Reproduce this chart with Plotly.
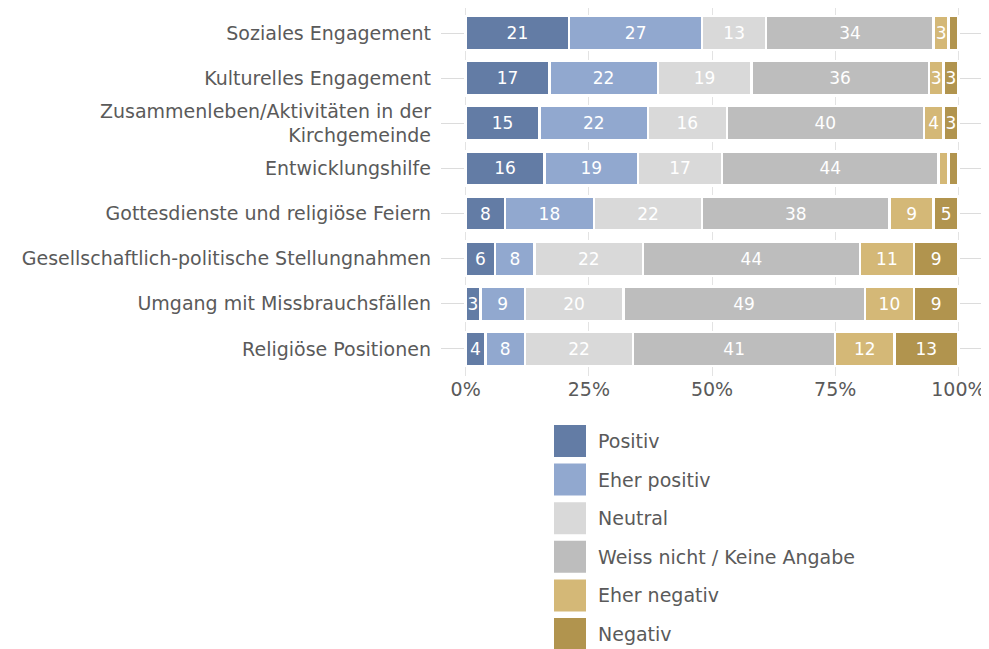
import plotly.graph_objects as go

categories = [
    "Soziales Engagement",
    "Kulturelles Engagement",
    "Zusammenleben/Aktivitäten in der<br>Kirchgemeinde",
    "Entwicklungshilfe",
    "Gottesdienste und religiöse Feiern",
    "Gesellschaftlich-politische Stellungnahmen",
    "Umgang mit Missbrauchsfällen",
    "Religiöse Positionen",
]
series_names = ["Positiv", "Eher positiv", "Neutral", "Weiss nicht / Keine Angabe", "Eher negativ", "Negativ"]
positiv = [21, 17, 15, 16, 8, 6, 3, 4]
eher_positiv = [27, 22, 22, 19, 18, 8, 9, 8]
neutral = [13, 19, 16, 17, 22, 22, 20, 22]
weiss_nicht = [34, 36, 40, 44, 38, 44, 49, 41]
eher_negativ = [3, 3, 4, 2, 9, 11, 10, 12]
negativ = [2, 3, 3, 2, 5, 9, 9, 13]
series_values = [positiv, eher_positiv, neutral, weiss_nicht, eher_negativ, negativ]
colors = ["#637CA5", "#91A8CF", "#D9D9D9", "#BDBDBD", "#D4B877", "#B1944E"]
x_ticks = [0, 25, 50, 75, 100]

FONT = "DejaVu Sans"
TXT = "#5a5a5a"
OFF = 8  # page body margin
W, H = 989 - OFF, 649 - OFF
# plot area in page pixels: left 441, right 983, top 8, bottom 376
L = 441 - OFF
R = 989 - 983
T = 0
B = 649 - 376
pw, ph = W - L - R, H - T - B

fig = go.Figure()
for name, vals, col in zip(series_names, series_values, colors):
    fig.add_trace(go.Bar(
        y=categories, x=vals, name=name, orientation="h",
        marker=dict(color=col, line=dict(color="white", width=2.5)),
        text=[str(v) if v >= 3 else "" for v in vals],
        textposition="inside", insidetextanchor="middle",
        textfont=dict(color="white", size=17, family=FONT),
        showlegend=False, hoverinfo="x+name",
    ))

def px_x(p):
    return (p - OFF - L) / pw

def px_y(p):
    return (H - B - (p - OFF)) / ph

shapes, annotations = [], []
leg_x0, leg_top, pitch, sq = 554, 425, 38.6, 32
for i, (name, col) in enumerate(zip(series_names, colors)):
    top = leg_top + i * pitch
    shapes.append(dict(type="rect", xref="paper", yref="paper",
                       x0=px_x(leg_x0), x1=px_x(leg_x0 + sq),
                       y0=px_y(top + sq), y1=px_y(top),
                       fillcolor=col, line=dict(width=0), layer="above"))
    annotations.append(dict(xref="paper", yref="paper", x=px_x(leg_x0 + 42),
                            y=px_y(top + sq / 2), text=name, showarrow=False,
                            xanchor="left", yanchor="middle",
                            font=dict(size=19, color=TXT, family=FONT)))

fig.update_layout(
    barmode="stack", bargap=0.24,
    width=W, height=H,
    margin=dict(l=L, r=R, t=T, b=B, pad=0),
    plot_bgcolor="white", paper_bgcolor="white",
    font=dict(family=FONT, color=TXT, size=19),
    uniformtext=dict(minsize=17, mode="show"),
    shapes=shapes, annotations=annotations,
    showlegend=False,
)
fig.update_xaxes(range=[-5, 105], tickvals=x_ticks, ticktext=[f"{v}%" for v in x_ticks],
                 showgrid=True, gridcolor="#e3e3e3", gridwidth=1, zeroline=False,
                 showline=False, ticks="", tickfont=dict(size=19, color=TXT))
fig.update_yaxes(categoryorder="array", categoryarray=categories[::-1],
                 range=[-0.6, 7.554], showgrid=True, gridcolor="#dcdcdc", gridwidth=1,
                 zeroline=False, showline=False, ticks="", ticklabelstandoff=9,
                 tickfont=dict(size=19, color=TXT))

fig.write_html("out.html")
